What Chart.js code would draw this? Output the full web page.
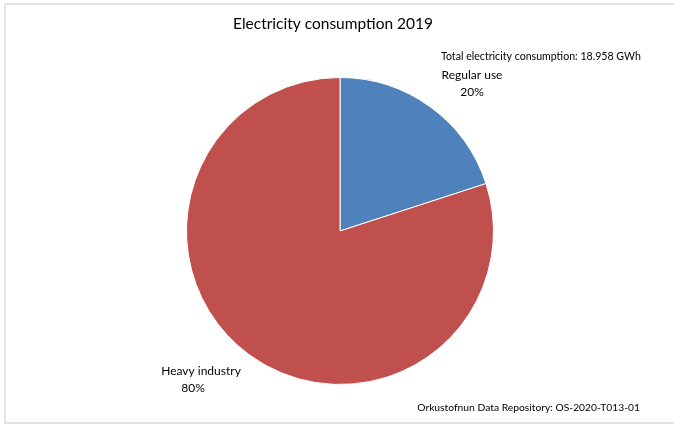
<!DOCTYPE html>
<html>
<head>
<meta charset="utf-8">
<script src="https://cdn.jsdelivr.net/npm/chart.js@4"></script>
<style>
  html, body { margin: 0; padding: 0; background: #fff; }
  #wrap { position: relative; width: 674px; height: 425px; }
  #frame { position: absolute; left: 4px; top: 3px; width: 680px; height: 417px;
           border-top: 2px solid #e3e3e3; border-left: 2px solid #e3e3e3; border-bottom: 2px solid #e3e3e3; }
  canvas { position: absolute; left: 0; top: 0; }
</style>
</head>
<body>
<div id="wrap">
  <div id="frame"></div>
  <canvas id="pie" width="674" height="425"></canvas>
</div>
<script>
const categories = ['Regular use', 'Heavy industry'];
const shares = [20, 80];
const sliceColors = ['#4F81BD', '#C0504D'];
const titleText = 'Electricity consumption 2019';
const totalText = 'Total electricity consumption: 18.958 GWh';
const sourceText = 'Orkustofnun Data Repository: OS-2020-T013-01';

const FONT = 'Lato, "Open Sans", sans-serif';

// labels and captions drawn on top of the pie
const textPlugin = {
  id: 'texts',
  afterDraw(chart) {
    const ctx = chart.ctx;
    ctx.save();
    ctx.fillStyle = '#000';
    ctx.textBaseline = 'middle';

    ctx.font = '15.5px ' + FONT;
    ctx.textAlign = 'center';
    ctx.fillText(titleText, 333, 24);

    ctx.font = '10.6px ' + FONT;
    ctx.textAlign = 'left';
    ctx.fillText(totalText, 441, 57);

    ctx.font = '12px ' + FONT;
    ctx.textAlign = 'center';
    const pos = [[472, 75, 472], [201, 371, 193]];
    categories.forEach((c, i) => {
      ctx.fillText(c, pos[i][0], pos[i][1]);
      ctx.fillText(shares[i] + '%', pos[i][2], pos[i][1] + 17);
    });

    ctx.textAlign = 'right';
    ctx.font = '10.3px ' + FONT;
    ctx.fillText(sourceText, 640, 408);
    ctx.restore();
  }
};

new Chart(document.getElementById('pie'), {
  type: 'pie',
  data: {
    labels: categories,
    datasets: [{
      data: shares,
      backgroundColor: sliceColors,
      borderColor: '#ffffff',
      borderWidth: 1
    }]
  },
  options: {
    responsive: false,
    animation: false,
    layout: { padding: { left: 186, right: 180, top: 77, bottom: 40 } },
    plugins: {
      legend: { display: false },
      tooltip: { enabled: false },
      title: { display: false }
    }
  },
  plugins: [textPlugin]
});
</script>
</body>
</html>
